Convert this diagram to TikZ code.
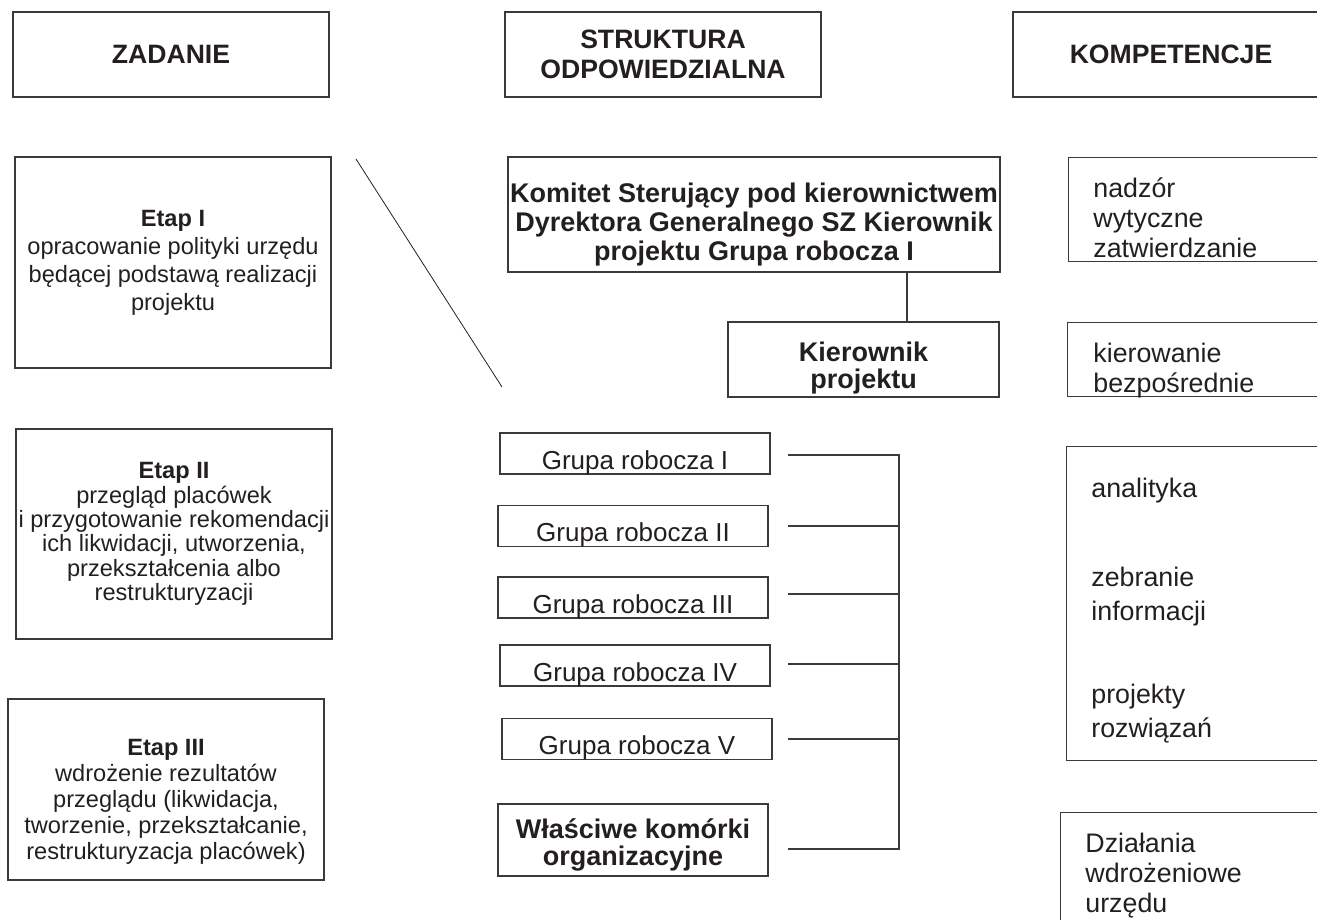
\documentclass[tikz,border=0pt]{standalone}
\usepackage{fontspec}
\setmainfont{Liberation Sans}
\usepackage{tikz}
\usetikzlibrary{positioning, calc}
\definecolor{czarny}{HTML}{231F20}
\definecolor{ramkowy}{HTML}{3A3A3A}
\newcommand{\odstep}[1]{\rule{0pt}{#1}}
\tikzset{
  ramka/.style={draw=ramkowy, line width=0.6pt, inner sep=1pt, align=center, text=czarny, font=\fontsize{13}{15}\selectfont},
  naglowek/.style={ramka, minimum width=158pt, minimum height=42.5pt, font=\fontsize{13.3}{15}\selectfont\bfseries},
  etap/.style={ramka, minimum width=158pt, font=\fontsize{11.8}{13.2}\selectfont},
  grupa/.style={ramka, minimum width=135pt, inner ysep=2.5pt, text height=15.5pt, text depth=0pt},
  wazny/.style={ramka, inner ysep=0pt, font=\fontsize{13.5}{14.5}\selectfont\bfseries},
  kompet/.style={draw=ramkowy, line width=0.6pt, minimum width=140pt, anchor=north west},
  opis/.style={align=left, inner sep=0pt, anchor=north west, text=czarny, font=\fontsize{13.4}{15}\selectfont},
  linia/.style={draw=ramkowy, line width=0.6pt},
}

\begin{document}
\begin{tikzpicture}[x=0.5pt, y=-0.5pt]
  \useasboundingbox (0,0) rectangle (1317,920);
  \clip (0,0) rectangle (1317,920);
  % naglowki kolumn
  \node[naglowek] (zad) at (171,54.5) {ZADANIE};
  \node[naglowek] (str) at (663,54.5) {STRUKTURA\\ODPOWIEDZIALNA};
  \node[naglowek] (komp) at (1171,54.5) {KOMPETENCJE};
  % etapy
  \node[etap, minimum height=105.5pt, font=\fontsize{11.8}{14}\selectfont] (e1) at (173,262.5) {\textbf{Etap I}\\opracowanie polityki urzędu\\będącej podstawą realizacji\\projektu};
  \node[etap, minimum height=105pt, font=\fontsize{11.8}{12.2}\selectfont] (e2) at (174,534) {\textbf{Etap II}\\przegląd placówek\\i przygotowanie rekomendacji\\ich likwidacji, utworzenia,\\przekształcenia albo\\restrukturyzacji};
  \node[etap, minimum height=90.5pt, font=\fontsize{11.8}{13}\selectfont] (e3) at (166,789.5) {\odstep{20.5pt}\textbf{Etap III}\\wdrożenie rezultatów\\przeglądu (likwidacja,\\tworzenie, przekształcanie,\\restrukturyzacja placówek)};
  % struktura
  \node[wazny, minimum width=246pt, minimum height=57.5pt] (kom) at (754,214.5) {\odstep{19.7pt}Komitet Sterujący pod kierownictwem\\Dyrektora Generalnego SZ Kierownik\\projektu Grupa robocza I};
  \node[wazny, minimum width=135.5pt, minimum height=37.5pt, font=\fontsize{13.5}{13.5}\selectfont\bfseries] (kier) at (863.5,359.5) {\odstep{18.7pt}Kierownik\\projektu};
  \draw[linia] ([xshift=21.75pt]kier.north) -- ([xshift=21.75pt]kier.north |- kom.south);
  \node[grupa] (g1) at (635,453.5) {Grupa robocza I};
  \node[grupa] (g2) at (633,526) {Grupa robocza II};
  \node[grupa] (g3) at (633,597.5) {Grupa robocza III};
  \node[grupa] (g4) at (635,665.5) {Grupa robocza IV};
  \node[grupa] (g5) at (637,739) {Grupa robocza V};
  \node[wazny, minimum width=135pt, minimum height=36pt, font=\fontsize{13.5}{13.5}\selectfont\bfseries] (wk) at (633,840) {\odstep{14.7pt}Właściwe komórki\\organizacyjne};
  \coordinate (wylot) at (788,0);
  \coordinate (szyna) at (899,0);
  \draw[linia] ([yshift=-0.75pt]wylot |- g1) -| ([yshift=-4.5pt]szyna |- wk) -- ([yshift=-4.5pt]wylot |- wk);
  \foreach \g/\dy in {g2/0pt, g3/1.75pt, g4/0.75pt, g5/0pt}
    \draw[linia] ([yshift=\dy]wylot |- \g) -- ([yshift=\dy]szyna |- \g);
  \coordinate (ukos1) at (356,159);
  \coordinate (ukos2) at (502,387);
  \draw[czarny, line width=0.4pt] (ukos1) -- (ukos2);
  % kompetencje
  \node[kompet, minimum height=52pt] (k1) at (1068,157) {};
  \node[opis] (k1t) at (1093,177) {nadzór\\wytyczne\\zatwierdzanie};
  \node[kompet, minimum height=37pt] (k2) at (1067,322) {};
  \node[opis] (k2t) at (1093,342.5) {kierowanie\\bezpośrednie};
  \node[kompet, minimum height=157pt] (k3) at (1066,446) {};
  \node[opis, font=\fontsize{13.4}{17}\selectfont] (k3t) at (1091,477.5) {analityka\\[27.5pt]zebranie\\informacji\\[24.5pt]projekty\\rozwiązań};
  \node[kompet, minimum height=70pt] (k4) at (1060,812) {};
  \node[opis] (k4t) at (1085,832.5) {Działania\\wdrożeniowe\\urzędu};
\end{tikzpicture}
\end{document}
